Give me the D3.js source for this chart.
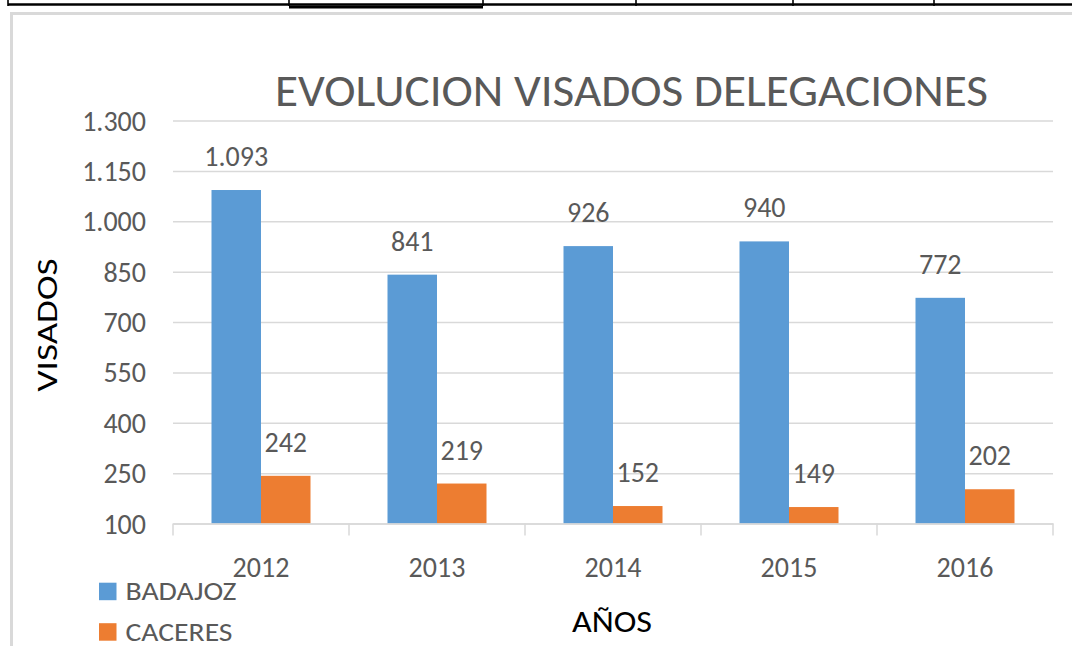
<!DOCTYPE html>
<html>
<head>
<meta charset="utf-8">
<script src="https://cdn.jsdelivr.net/npm/d3@7"></script>
<style>
  html, body { margin: 0; padding: 0; background: #fff; }
  svg { display: block; }
  text { font-family: Carlito, Calibri, Lato, "Open Sans", sans-serif; }
</style>
</head>
<body>
<svg id="chart" width="1072" height="646"></svg>
<script>
const years = ["2012", "2013", "2014", "2015", "2016"];
const series = ["BADAJOZ", "CACERES"];
const badajoz = [1093, 841, 926, 940, 772];
const caceres = [242, 219, 152, 149, 202];
const yTicks = [100, 250, 400, 550, 700, 850, 1000, 1150, 1300];
const colors = ["#5B9BD5", "#ED7D31"];
const title = "EVOLUCION VISADOS DELEGACIONES";
const yTitle = "VISADOS";
const xTitle = "AÑOS";
const legendWidths = [111, 107];

const values = [badajoz, caceres];
const svg = d3.select("#chart");

// page decoration (table border above, chart frame)
const deco = svg.append("g");
deco.append("line").attr("x1", 8).attr("x2", 1072).attr("y1", 4.5).attr("y2", 4.5)
  .attr("stroke", "#000").attr("stroke-width", 2.5);
deco.append("line").attr("x1", 289).attr("x2", 483).attr("y1", 7).attr("y2", 7)
  .attr("stroke", "#000").attr("stroke-width", 3);
[8, 289, 483, 636, 793, 934].forEach(x => {
  deco.append("line").attr("x1", x).attr("x2", x).attr("y1", 0).attr("y2", 6)
    .attr("stroke", "#000").attr("stroke-width", 1.6);
});
deco.append("path").attr("d", "M11.5,646 V13.5 H1072")
  .attr("fill", "none").attr("stroke", "#d9d9d9").attr("stroke-width", 3);

const loc = d3.formatLocale({decimal: ",", thousands: ".", grouping: [3], currency: ["", ""]});
const fmt = loc.format(",d");

const y = d3.scaleLinear().domain([100, 1300]).range([523.5, 120.5]);
const x = d3.scaleBand().domain(years).range([173, 1053]).paddingInner(0.4375).paddingOuter(0.21875);
const x1 = d3.scaleBand().domain(series).range([0, x.bandwidth()]);

// gridlines
const grid = svg.append("g").attr("transform", "translate(173,0)")
  .call(d3.axisLeft(y).tickValues(yTicks).tickSize(-880).tickFormat(""));
grid.select(".domain").remove();
grid.selectAll(".tick line").attr("stroke", "#d9d9d9").attr("stroke-width", 1.5);

// y tick labels
svg.append("g").selectAll("text").data(yTicks).join("text")
  .attr("x", 146).attr("y", d => y(d) + 10).attr("text-anchor", "end")
  .attr("font-size", 28).attr("fill", "#595959").text(d => fmt(d));

// bars
const groups = svg.append("g").selectAll("g").data(years).join("g")
  .attr("transform", d => `translate(${x(d)},0)`);
groups.selectAll("rect").data((d, i) => series.map((s, j) => ({s, j, v: values[j][i]})))
  .join("rect")
  .attr("x", d => x1(d.s)).attr("width", x1.bandwidth())
  .attr("y", d => y(d.v)).attr("height", d => y(100) - y(d.v))
  .attr("fill", d => colors[d.j]);
groups.selectAll("text").data((d, i) => series.map((s, j) => ({s, j, v: values[j][i]})))
  .join("text")
  .attr("x", d => x1(d.s) + x1.bandwidth() / 2).attr("y", d => y(d.v) - 24)
  .attr("text-anchor", "middle").attr("font-size", 28).attr("fill", "#595959")
  .text(d => fmt(d.v));

// x axis
const xa = svg.append("g").attr("transform", `translate(0,${y(100)})`)
  .call(d3.axisBottom(x).tickSize(0).tickFormat(""));
xa.select(".domain").attr("stroke", "#d9d9d9").attr("stroke-width", 1.5);
xa.selectAll(".tick").remove();
const bounds = years.map(d => x(d) - x.step() * x.paddingInner() / 2).concat([1053]);
xa.selectAll("line.b").data(bounds).join("line").attr("class", "b")
  .attr("x1", d => d).attr("x2", d => d).attr("y1", 0).attr("y2", 12)
  .attr("stroke", "#d9d9d9").attr("stroke-width", 1.5);
svg.append("g").selectAll("text").data(years).join("text")
  .attr("x", d => x(d) + x.bandwidth() / 2).attr("y", 577)
  .attr("text-anchor", "middle").attr("font-size", 28).attr("fill", "#595959").text(d => d);

// title
svg.append("text").attr("x", 275).attr("y", 105.5)
  .attr("font-size", 45).attr("fill", "#595959")
  .attr("textLength", 713).attr("lengthAdjust", "spacingAndGlyphs").text(title);

// axis titles
svg.append("text").attr("transform", "translate(56.5,325) rotate(-90)")
  .attr("text-anchor", "middle").attr("font-size", 28).attr("fill", "#000")
  .attr("textLength", 133).attr("lengthAdjust", "spacingAndGlyphs").text(yTitle);
svg.append("text").attr("x", 572).attr("y", 631.5)
  .attr("font-size", 31).attr("fill", "#000")
  .attr("textLength", 80).attr("lengthAdjust", "spacingAndGlyphs").text(xTitle);

// legend
const leg = svg.append("g").selectAll("g").data(series).join("g")
  .attr("transform", (d, i) => `translate(99,${582.7 + i * 40.5})`);
leg.append("rect").attr("width", 17.5).attr("height", 17.5).attr("fill", (d, i) => colors[i]);
leg.append("text").attr("x", 26.5).attr("y", 17.5).attr("font-size", 26)
  .attr("textLength", (d, i) => legendWidths[i]).attr("lengthAdjust", "spacingAndGlyphs")
  .attr("fill", "#595959").text(d => d);
</script>
</body>
</html>
